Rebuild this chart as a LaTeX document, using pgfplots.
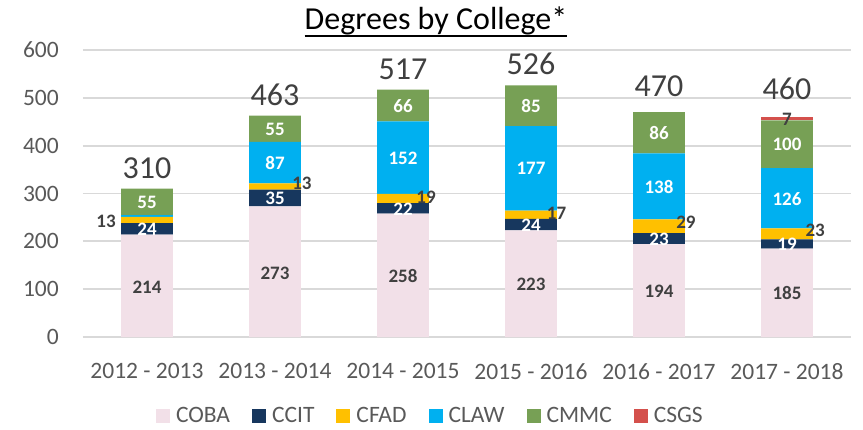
\documentclass[border=0pt]{standalone}
\usepackage{pgfplots}
\pgfplotsset{compat=1.18}
\usepackage{fontspec}
\setmainfont{Carlito}
\definecolor{coba}{HTML}{F2E0E8}
\definecolor{ccit}{HTML}{17375E}
\definecolor{cfad}{HTML}{FFC000}
\definecolor{claw}{HTML}{00B0F0}
\definecolor{cmmc}{HTML}{77A055}
\definecolor{csgs}{HTML}{D4504C}
\definecolor{gridc}{HTML}{D9D9D9}
\definecolor{tickc}{HTML}{595959}
\definecolor{lblc}{HTML}{404040}
\pgfplotsset{sqlegend/.style={legend image code/.code={\fill[##1] (0bp,-7bp) rectangle (14bp,7bp);}}}
\newcommand{\lblfont}{\fontsize{19bp}{22bp}\selectfont\bfseries}
\newcommand{\tickfont}{\fontsize{23.5bp}{26bp}\selectfont}
\newcommand{\bigfont}{\fontsize{32bp}{36bp}\selectfont}
\begin{document}
\begin{tikzpicture}
\useasboundingbox (-83bp,-93bp) rectangle (780bp,337bp);
\begin{axis}[
  at={(0,0)}, anchor=south west,
  scale only axis, width=768bp, height=287bp,
  ybar stacked, bar width=0.405,
  xmin=-0.5, xmax=5.5, ymin=0, ymax=600, enlargelimits=false,
  xtick={0,...,5},
  xticklabels={2012 - 2013, 2013 - 2014, 2014 - 2015, 2015 - 2016, 2016 - 2017, 2017 - 2018},
  ytick={0,100,...,600},
  ymajorgrids, grid style={draw=gridc, line width=1.8bp},
  axis line style={draw=none},
  major tick length=0pt,
  tick style={draw=none},
  /pgf/number format/assume math mode=true,
  xticklabel style={font=\tickfont, text=tickc, anchor=north, inner sep=0pt, yshift=-26bp},
  yticklabel style={font=\tickfont, text=tickc, anchor=east, inner sep=0pt, xshift=-24bp},
  legend columns=6,
  legend style={draw=none, fill=none, inner sep=0pt, outer sep=0pt,
    at={(0.0951,-0.2745)}, anchor=west, font=\fontsize{23.5bp}{26bp}\selectfont, text=tickc,
    nodes={inner sep=2bp}, cells={anchor=west},
    /tikz/every odd column/.append style={column sep=4bp},
    /tikz/every even column/.append style={column sep=20bp}},
]
\addplot[draw=none, fill=coba, sqlegend] coordinates {(0,214) (1,273) (2,258) (3,223) (4,194) (5,185)};
\addlegendentry{COBA}
\addplot[draw=none, fill=ccit, sqlegend] coordinates {(0,24) (1,35) (2,22) (3,24) (4,23) (5,19)};
\addlegendentry{CCIT}
\addplot[draw=none, fill=cfad, sqlegend] coordinates {(0,13) (1,13) (2,19) (3,17) (4,29) (5,23)};
\addlegendentry{CFAD}
\addplot[draw=none, fill=claw, sqlegend] coordinates {(0,4) (1,87) (2,152) (3,177) (4,138) (5,126)};
\addlegendentry{CLAW}
\addplot[draw=none, fill=cmmc, sqlegend] coordinates {(0,55) (1,55) (2,66) (3,85) (4,86) (5,100)};
\addlegendentry{CMMC}
\addplot[draw=none, fill=csgs, sqlegend] coordinates {(0,0) (1,0) (2,0) (3,0) (4,0) (5,7)};
\addlegendentry{CSGS}
\end{axis}
\begin{axis}[
  at={(0,0)}, anchor=south west,
  scale only axis, width=768bp, height=287bp,
  xmin=-0.5, xmax=5.5, ymin=0, ymax=600, enlargelimits=false,
  hide axis, clip=false,
  nodes near coords, point meta=explicit symbolic,
  every node near coord/.append style={anchor=center, inner sep=0pt},
]
% COBA labels
\addplot[draw=none, mark=none, every node near coord/.append style={font=\lblfont, text=lblc}]
  coordinates {(0,105)[214] (1,134)[273] (2,127)[258] (3,110)[223] (4,96)[194] (5,91)[185]};
% CCIT labels
\addplot[draw=none, mark=none, every node near coord/.append style={font=\lblfont, text=white}]
  coordinates {(0,225)[24] (1,290)[35] (2,268)[22] (3,234)[24] (4,204)[23] (5,193)[19]};
% CFAD labels (outside)
\addplot[draw=none, mark=none, every node near coord/.append style={font=\lblfont, text=lblc}]
  coordinates {(-0.32,242)[13] (1.21,321)[13] (2.18,293)[19] (3.2,259)[17] (4.21,239)[29] (5.22,222)[23]};
% CLAW labels
\addplot[draw=none, mark=none, every node near coord/.append style={font=\lblfont, text=white}]
  coordinates {(1,364)[87] (2,374)[152] (3,352)[177] (4,314)[138] (5,289)[126]};
% CMMC labels
\addplot[draw=none, mark=none, every node near coord/.append style={font=\lblfont, text=white}]
  coordinates {(0,282)[55] (1,435)[55] (2,483)[66] (3,483)[85] (4,426)[86] (5,402)[100]};
% CSGS label
\addplot[draw=none, mark=none, every node near coord/.append style={font=\lblfont, text=lblc}]
  coordinates {(5,455)[7]};
% totals
\addplot[draw=none, mark=none, every node near coord/.append style={anchor=south, yshift=10bp, font=\bigfont, text=lblc}]
  coordinates {(0,310)[310] (1,463)[463] (2,517)[517] (3,526)[526] (4,480)[470] (5,475)[460]};
\end{axis}
\node[anchor=base, inner sep=0pt, font=\bigfont, text=black] (T) at (353bp,307bp) {Degrees by College*};
\draw[line width=1.8bp] ([yshift=-6bp]T.base west) -- ([yshift=-6bp]T.base east);
\end{tikzpicture}
\end{document}
